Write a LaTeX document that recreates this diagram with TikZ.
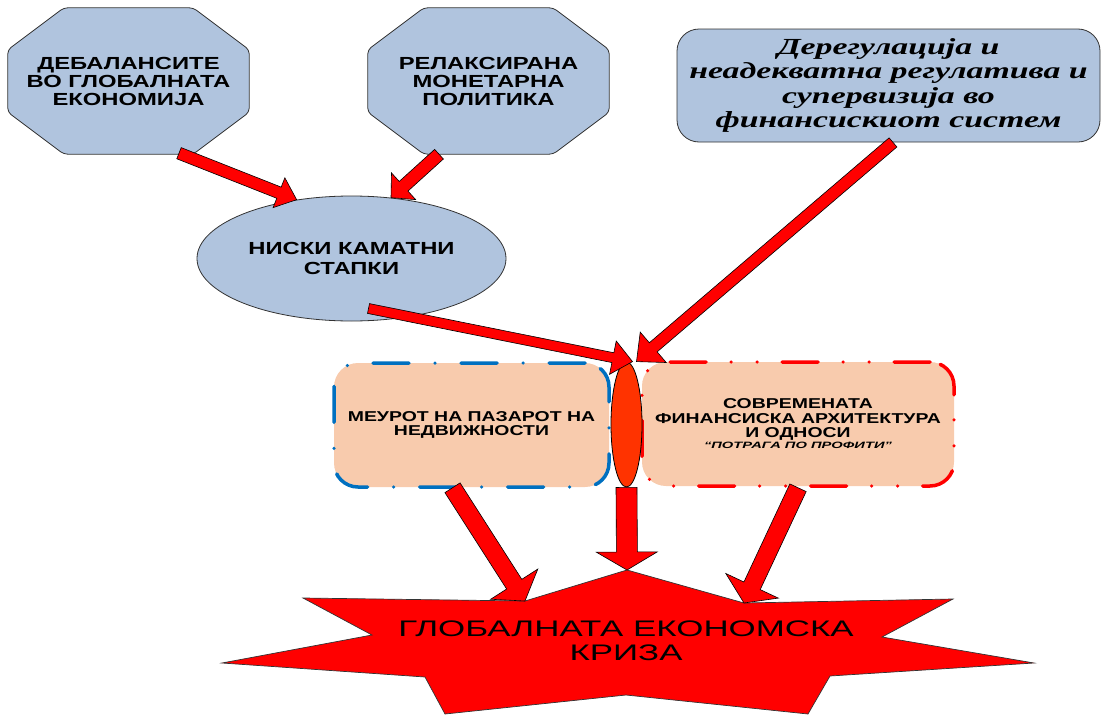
\documentclass[tikz,border=0pt]{standalone}
\usepackage{fontspec}
\setmainfont{Liberation Sans}
\newfontfamily\boxfont[FakeStretch=1.36]{Liberation Sans}
\newfontfamily\quotefont[FakeStretch=1.6]{Liberation Sans}
\newfontfamily\crisisfont[FakeStretch=1.55]{Liberation Sans}
\newfontfamily\titlefont[FakeStretch=1.47]{Liberation Serif}
\usetikzlibrary{calc,shapes.geometric,backgrounds}

\definecolor{steel}{HTML}{B0C4DE}
\definecolor{peach}{HTML}{F8CBAD}
\definecolor{boxblue}{HTML}{0070C0}
\definecolor{lensred}{HTML}{FF3300}

\tikzset{
  octtext/.style={minimum width=241pt, minimum height=146pt, inner sep=0pt, align=center,
    font=\boxfont\bfseries\fontsize{17.5}{18}\selectfont},
  octline/.style={fill=steel, draw=black!80, line width=0.8pt, rounded corners=4pt},
  deregbox/.style={rectangle, rounded corners=22pt, fill=steel, draw=black!80, line width=0.8pt,
    minimum width=423pt, minimum height=113pt, inner sep=0pt, align=center,
    font=\titlefont\bfseries\itshape\fontsize{23}{24.5}\selectfont},
  ratebox/.style={ellipse, fill=steel, draw=black!80, line width=0.8pt, inner sep=0pt,
    minimum width=309pt, minimum height=125pt, align=center,
    font=\boxfont\bfseries\fontsize{17.5}{19.5}\selectfont},
  peachbox/.style={rectangle, rounded corners=24pt, fill=peach, line width=3.5pt, line cap=round,
    minimum height=124pt, inner sep=0pt, align=center,
    font=\boxfont\bfseries\fontsize{14.3}{14.5}\selectfont},
  meurotbox/.style={peachbox, draw=boxblue, minimum width=275pt,
    dash pattern=on 36pt off 26pt on 0pt off 26pt},
  savrbox/.style={peachbox, draw=red, minimum width=312pt,
    dash pattern=on 36pt off 25pt on 0pt off 26pt on 0pt off 25pt},
  lens/.style={ellipse, fill=lensred, draw=black, line width=0.8pt, inner sep=0pt,
    minimum width=31pt, minimum height=125pt},
  starline/.style={fill=red, draw=black!80, line width=0.7pt},
  crisis/.style={align=center, inner sep=0pt, font=\crisisfont\fontsize{22.5}{24}\selectfont},
  arrowbody/.style={fill=red, draw=black, line width=0.6pt, line join=miter}
}

% octagon round a node
\newcommand\octagon[1]{%
  \filldraw[octline] ($(#1.north west)+(56,0)$) -- ($(#1.north east)+(-56,0)$)
    -- ($(#1.north east)+(0,42)$) -- ($(#1.south east)+(0,-42)$)
    -- ($(#1.south east)+(-56,0)$) -- ($(#1.south west)+(56,0)$)
    -- ($(#1.south west)+(0,-42)$) -- ($(#1.north west)+(0,42)$) -- cycle;}

% block arrow: tail, tip, half shaft, half head, head length
\newcommand\redarrow[5]{%
  \coordinate (ah) at ($(#2)!#5!(#1)$);
  \filldraw[arrowbody] ($(#1)!#3!90:(#2)$) -- ($(ah)!#3!-90:(#1)$) -- ($(ah)!#4!-90:(#1)$)
    -- (#2) -- ($(ah)!#4!90:(#1)$) -- ($(ah)!#3!90:(#1)$) -- ($(#1)!#3!-90:(#2)$) -- cycle;}

\begin{document}
\begin{tikzpicture}[x=1pt,y=-1pt]
  \useasboundingbox (0,0) rectangle (1101,715);

  \node[octtext] (debal) at (128.5,81) {ДЕБАЛАНСИТЕ\\ВО ГЛОБАЛНАТА\\ЕКОНОМИЈА};
  \node[octtext] (relax) at (488.5,81) {РЕЛАКСИРАНА\\МОНЕТАРНА\\ПОЛИТИКА};
  \begin{scope}[on background layer]
    \octagon{debal}
    \octagon{relax}
  \end{scope}
  \node[deregbox] (dereg) at (888.5,85.5) {Дерегулација и\\неадекватна регулатива и\\супервизија во\\финансискиот систем};

  \node[ratebox] (stapki) at (351.5,258.5) {НИСКИ КАМАТНИ\\СТАПКИ};

  \node[meurotbox] (meurot) at (471.5,425) {МЕУРОТ НА ПАЗАРОТ НА\\НЕДВИЖНОСТИ};
  \node[savrbox] (savr) at (798,424) {СОВРЕМЕНАТА\\ФИНАНСИСКА АРХИТЕКТУРА\\И ОДНОСИ\\[-3.5pt]
    {\quotefont\fontsize{9.2}{10}\selectfont\itshape “ПОТРАГА ПО ПРОФИТИ”}};
  \node[lens] (lens) at (626.5,424.5) {};

  % star
  \coordinate (st-t) at (627,570);
  \coordinate (st-r) at (744,603);
  \coordinate (st-l) at (525,601);
  \filldraw[starline] (st-t) -- (st-r) -- (953,599) -- (882,637) -- (1034,663) -- (830,676)
    -- (808,714) -- (626,695) -- (445,714) -- (425,677) -- (222,663) -- (372,635)
    -- (303,598) -- (st-l) -- cycle;
  \node[crisis] (kriza) at (626,641) {ГЛОБАЛНАТА ЕКОНОМСКА\\КРИЗА};

  % arrows
  \coordinate (a1) at ($(debal.south)+(50.5,-1)$);
  \coordinate (a2) at ($(relax.south)+(-49.5,0)$);
  \coordinate (a3) at ($(stapki.center)+(17,50)$);
  \coordinate (a4) at ($(dereg.south)+(4.5,0)$);
  \coordinate (l3) at ($(lens.north)+(6,0)$);
  \coordinate (l4) at ($(lens.north)+(10,0)$);
  \coordinate (a5) at ($(meurot.south)+(-19,-1)$);
  \coordinate (a7) at ($(savr.south)+(0,0)$);
  \redarrow{a1}{stapki.133}{6pt}{16pt}{19pt}
  \redarrow{a2}{stapki.57}{6.5pt}{18pt}{17pt}
  \redarrow{a3}{l3}{5pt}{17pt}{20pt}
  \redarrow{a4}{l4}{6pt}{20pt}{22pt}
  \redarrow{a5}{st-l}{9pt}{28pt}{20pt}
  \redarrow{lens.south}{st-t}{10.5pt}{30.5pt}{18pt}
  \redarrow{a7}{st-r}{9pt}{29pt}{19pt}
\end{tikzpicture}
\end{document}
